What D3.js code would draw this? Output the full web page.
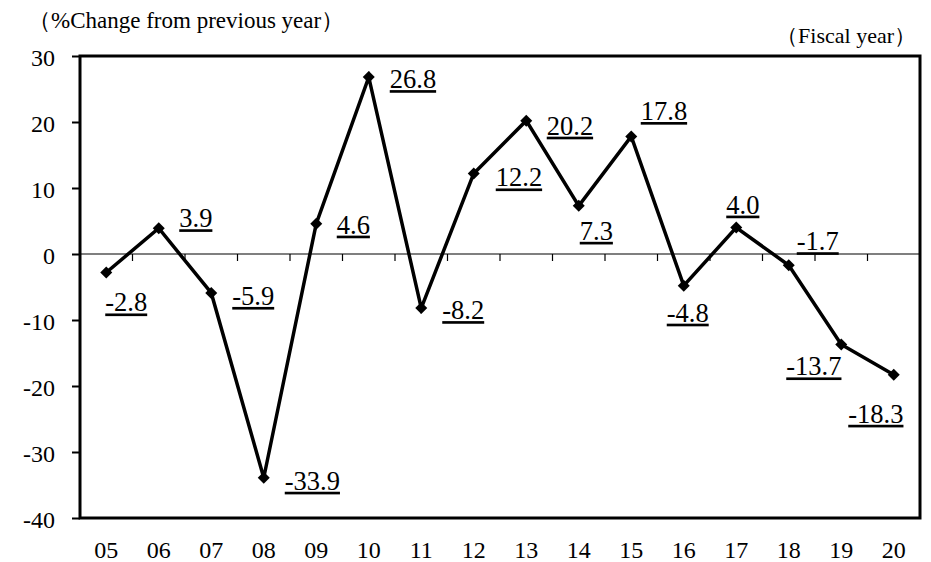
<!DOCTYPE html>
<html>
<head>
<meta charset="utf-8">
<script src="https://cdn.jsdelivr.net/npm/d3@7"></script>
<style>
    body { margin: 0; background: #fff; }
    svg, svg text { font-family: "Liberation Serif", "Times New Roman", Tinos, "DejaVu Serif", serif !important; }
</style>
</head>
<body>
<div id="chart"></div>
<script>
// data
const years = ["05", "06", "07", "08", "09", "10", "11", "12", "13", "14", "15", "16", "17", "18", "19", "20"];
const changes = [-2.8, 3.9, -5.9, -33.9, 4.6, 26.8, -8.2, 12.2, 20.2, 7.3, 17.8, -4.8, 4.0, -1.7, -13.7, -18.3];
const yTicks = [30, 20, 10, 0, -10, -20, -30, -40];
// where each value label sits, relative to its point [dx, dy]
const labelOffsets = [
    [-1, 39], [20.5, -1], [21, 12], [21, 12], [20.5, 10], [21, 11], [21, 11], [22, 13],
    [20.5, 14], [1, 34], [9.5, -16.5], [-17, 36], [-10, -14], [8, -15], [-55, 31], [-45.5, 48]
];

const width = 931,
    height = 562;
const margin = { top: 56, right: 11, bottom: 44, left: 80 };

const svg = d3.select("#chart")
    .append("svg")
    .attr("width", width)
    .attr("height", height);

const x = d3.scaleBand()
    .domain(years)
    .range([margin.left, width - margin.right])
    .padding(0);

const y = d3.scaleLinear()
    .domain([-40, 30])
    .range([height - margin.bottom, margin.top]);

// titles
svg.append("text")
    .attr("x", 28)
    .attr("y", 28)
    .style("font-size", "23px")
    .text("（%Change from previous year）");

svg.append("text")
    .attr("x", 916)
    .attr("y", 43)
    .attr("text-anchor", "end")
    .style("font-size", "22px")
    .text("（Fiscal year）");

// y axis
const yAxis = svg.append("g")
    .attr("transform", `translate(${margin.left},0)`)
    .call(d3.axisLeft(y).tickValues(yTicks).tickFormat(d => String(d)).tickSize(8).tickPadding(17));
yAxis.select(".domain").remove();
yAxis.selectAll(".tick line").attr("stroke", "#000").attr("stroke-width", 2);
yAxis.selectAll(".tick text")
    .attr("dy", "0.38em")
    .style("font-size", "24px")
    .attr("fill", "#000");

// x axis labels
const xAxis = svg.append("g")
    .attr("transform", `translate(0,${height - margin.bottom})`)
    .call(d3.axisBottom(x).tickSize(0).tickPadding(23));
xAxis.select(".domain").remove();
xAxis.selectAll(".tick text")
    .attr("dy", "0.71em")
    .style("font-size", "24px")
    .attr("fill", "#000");

// zero line with category ticks
svg.append("line")
    .attr("x1", margin.left)
    .attr("x2", width - margin.right)
    .attr("y1", y(0))
    .attr("y2", y(0))
    .attr("stroke", "#000")
    .attr("stroke-width", 1.2);

svg.append("g")
    .selectAll("line")
    .data(years.slice(1))
    .enter()
    .append("line")
        .attr("x1", d => x(d))
        .attr("x2", d => x(d))
        .attr("y1", y(0))
        .attr("y2", y(0) + 7)
        .attr("stroke", "#000")
        .attr("stroke-width", 1.2);

// plot frame
svg.append("rect")
    .attr("x", margin.left)
    .attr("y", margin.top)
    .attr("width", width - margin.right - margin.left)
    .attr("height", height - margin.bottom - margin.top)
    .attr("fill", "none")
    .attr("stroke", "#000")
    .attr("stroke-width", 3);

// line
const points = years.map((d, i) => ({ year: d, value: changes[i], off: labelOffsets[i] }));
const cx = d => x(d.year) + x.bandwidth() / 2;

svg.append("path")
    .datum(points)
    .attr("fill", "none")
    .attr("stroke", "#000")
    .attr("stroke-width", 3.5)
    .attr("stroke-linejoin", "miter")
    .attr("d", d3.line().x(cx).y(d => y(d.value)));

// diamond markers
svg.append("g")
    .selectAll("path")
    .data(points)
    .enter()
    .append("path")
        .attr("d", d3.symbol().type(d3.symbolSquare).size(72))
        .attr("transform", d => `translate(${cx(d)},${y(d.value)}) rotate(45)`)
        .attr("fill", "#000");

// value labels
svg.append("g")
    .selectAll("text")
    .data(points)
    .enter()
    .append("text")
        .attr("x", d => cx(d) + d.off[0])
        .attr("y", d => y(d.value) + d.off[1])
        .style("font-size", "26.5px")
        .style("text-decoration", "underline")
        .attr("fill", "#000")
        .text(d => d.value.toFixed(1));
</script>
</body>
</html>
